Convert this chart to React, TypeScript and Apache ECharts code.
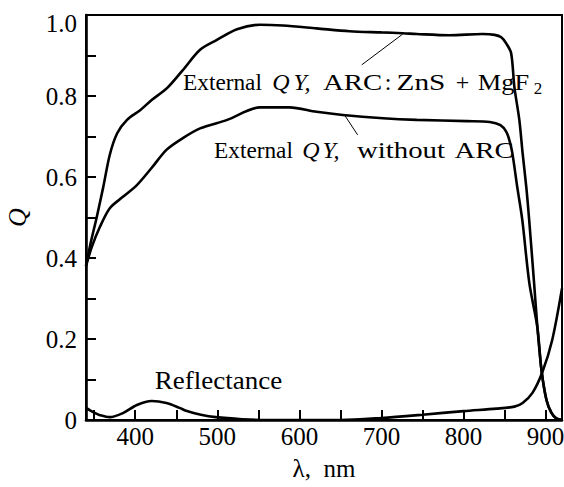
import React, { useEffect, useRef } from "react";
import * as echarts from "echarts";

// ---- data ----
const lambdaArc = [340, 346, 353, 361, 369, 378, 390, 406, 420, 439, 458, 479, 499, 524, 552, 580, 621, 661, 700, 726, 743, 783, 823, 838, 846, 852, 858, 862, 868, 872, 876.5, 880, 886, 890, 895, 901, 907, 913, 920];
const qyArc = [0.38, 0.44, 0.5, 0.575, 0.655, 0.708, 0.741, 0.765, 0.79, 0.82, 0.864, 0.914, 0.938, 0.965, 0.976, 0.974, 0.967, 0.96, 0.957, 0.955, 0.953, 0.95, 0.953, 0.951, 0.945, 0.93, 0.906, 0.822, 0.741, 0.659, 0.575, 0.494, 0.338, 0.23, 0.123, 0.05, 0.018, 0.004, 0];

const lambdaNoArc = [340, 347, 357, 369, 385, 402, 421, 438, 458, 479, 512, 552, 588, 621, 653, 702, 743, 804, 832, 845, 852, 856, 859.5, 865.5, 871.6, 880.2, 889.9, 895, 901, 907, 913, 920];
const qyNoArc = [0.38, 0.427, 0.477, 0.523, 0.551, 0.58, 0.625, 0.667, 0.696, 0.72, 0.741, 0.772, 0.772, 0.761, 0.753, 0.745, 0.741, 0.738, 0.736, 0.728, 0.712, 0.69, 0.659, 0.575, 0.494, 0.338, 0.23, 0.123, 0.05, 0.018, 0.004, 0];

const lambdaRefl = [340, 350, 357, 369, 385, 402, 420, 438, 454, 463, 480, 498, 530, 560, 600, 650, 700, 750, 800, 840, 862, 872, 884, 896, 908, 920];
const reflectance = [0.03, 0.018, 0.012, 0.007, 0.017, 0.037, 0.047, 0.042, 0.03, 0.022, 0.013, 0.007, 0.002, 0.0, 0.0, 0.0, 0.005, 0.013, 0.022, 0.028, 0.033, 0.042, 0.067, 0.118, 0.197, 0.325];

const xTicks = [350, 400, 450, 500, 550, 600, 650, 700, 750, 800, 850, 900];
const xLabels = [400, 500, 600, 700, 800, 900];

// leader lines (data coordinates): [start, end]
const leaderArc = [[676, 0.877], [726, 0.953]];
const leaderNoArc = [[671, 0.704], [655, 0.753]];

const FONT = "Times New Roman, Liberation Serif, DejaVu Serif, serif";

const zip = (xs: number[], ys: number[]) => xs.map((x, i) => [x, ys[i]]);

export default function App() {
  const ref = useRef<HTMLDivElement>(null);
  useEffect(() => {
    if (!ref.current) return;
    const chart = echarts.init(ref.current, undefined, { renderer: "svg" });
    const lineStyle = { color: "#000", width: 2.6 };
    // word placed by its centre; sx stretches it horizontally
    const txt = (text: string, cx: number, y: number, fs: number, italic = false, sx = 1) => ({
      type: "text",
      x: cx,
      y,
      scaleX: sx,
      style: {
        text,
        fill: "#000",
        fontFamily: FONT,
        fontSize: fs,
        fontStyle: italic ? "italic" : "normal",
        align: "center",
        verticalAlign: "middle",
      },
    });
    chart.setOption({
      animation: false,
      backgroundColor: "#fff",
      textStyle: { fontFamily: FONT },
      grid: {
        left: 86,
        right: 2,
        top: 15,
        bottom: 67,
        show: true,
        borderColor: "#000",
        borderWidth: 2,
        containLabel: false,
        outerBoundsMode: "none",
      },
      xAxis: {
        type: "value",
        min: 340,
        max: 920,
        name: "λ,  nm",
        nameLocation: "middle",
        nameGap: 36,
        nameTextStyle: { color: "#000", fontFamily: FONT, fontSize: 25 },
        axisLine: { show: true, lineStyle: { color: "#000", width: 2.6 } },
        axisTick: { show: true, inside: true, length: 10, customValues: xTicks, lineStyle: { color: "#000", width: 2 } },
        axisLabel: { customValues: xLabels, color: "#000", fontFamily: FONT, fontSize: 25, margin: 4 },
        splitLine: { show: false },
      },
      yAxis: {
        type: "value",
        min: 0,
        max: 1,
        interval: 0.1,
        name: "Q",
        nameLocation: "middle",
        nameRotate: 90,
        nameGap: 56,
        nameTextStyle: { color: "#000", fontFamily: FONT, fontSize: 26, fontStyle: "italic" },
        axisLine: { show: true, lineStyle: { color: "#000", width: 2.6 } },
        axisTick: { show: true, inside: true, length: 10, lineStyle: { color: "#000", width: 2 } },
        axisLabel: {
          color: "#000",
          fontFamily: FONT,
          fontSize: 25,
          margin: 9,
          formatter: (v: number) => {
            const r = Math.round(v * 10);
            if (r % 2 !== 0) return "";
            if (r === 0) return "0";
            if (r === 10) return "{t|1.0}";
            return v.toFixed(1);
          },
          rich: { t: { fontFamily: FONT, fontSize: 25, color: "#000", padding: [16, 0, 0, 0] } },
        },
        splitLine: { show: false },
      },
      series: [
        {
          name: "External QY, ARC: ZnS + MgF2",
          type: "line",
          data: zip(lambdaArc, qyArc),
          showSymbol: false,
          symbol: "none",
          smooth: 0.3,
          lineStyle,
          markLine: {
            silent: true,
            symbol: "none",
            label: { show: false },
            lineStyle: { color: "#000", width: 1, type: "solid" },
            data: [[{ coord: leaderArc[0] }, { coord: leaderArc[1] }]],
          },
        },
        {
          name: "External QY, without ARC",
          type: "line",
          data: zip(lambdaNoArc, qyNoArc),
          showSymbol: false,
          symbol: "none",
          smooth: 0.3,
          lineStyle,
          markLine: {
            silent: true,
            symbol: "none",
            label: { show: false },
            lineStyle: { color: "#000", width: 1, type: "solid" },
            data: [[{ coord: leaderNoArc[0] }, { coord: leaderNoArc[1] }]],
          },
        },
        {
          name: "Reflectance",
          type: "line",
          data: zip(lambdaRefl, reflectance),
          showSymbol: false,
          symbol: "none",
          smooth: 0.3,
          lineStyle,
        },
      ],
      graphic: [
        txt("External", 222.5, 82, 24, false, 0.97),
        txt("Q", 281, 82, 24, true),
        txt("Y,", 302, 82, 24, true),
        txt("ARC", 352.5, 82, 24, false, 1.2),
        txt(":", 388, 82, 24),
        txt("ZnS", 421, 82, 24, false, 1.22),
        txt("+", 462.5, 82, 24),
        txt("MgF", 503.5, 82, 24, false, 1.1),
        txt("2", 538, 88, 17),
        txt("External", 253.5, 150, 24, false, 0.97),
        txt("Q", 311, 150, 24, true),
        txt("Y,", 331, 150, 24, true),
        txt("without", 401, 150, 24, false, 1.2),
        txt("ARC", 484, 150, 24, false, 1.2),
        txt("Reflectance", 218.5, 381, 25, false, 1.08),
      ],
    });
    return () => chart.dispose();
  }, []);
  return (
    <div
      ref={ref}
      style={{ position: "absolute", left: 0, top: 0, width: 564, height: 487, background: "#fff" }}
    />
  );
}
